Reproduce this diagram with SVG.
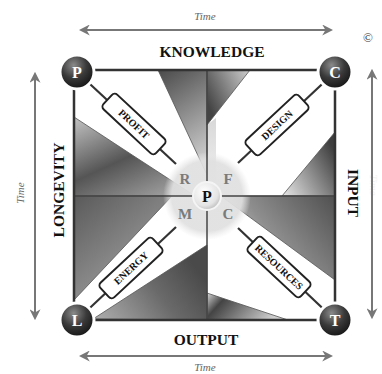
<svg xmlns="http://www.w3.org/2000/svg" width="382" height="374" viewBox="0 0 382 374">
<defs>
<style>
.lbl{font-family:"Liberation Serif","Times New Roman",serif;font-weight:bold;fill:#111;text-anchor:middle}
.time{font-family:"Liberation Serif","Times New Roman",serif;font-style:italic;font-size:11px;fill:#666;text-anchor:middle}
.box{fill:#fff;stroke:#222;stroke-width:2}
.boxt{font-family:"Liberation Serif","Times New Roman",serif;font-weight:bold;font-size:10px;fill:#111;text-anchor:middle}
.wire{stroke:#333;stroke-width:2.2;fill:none}
.corner{stroke:#fff;stroke-width:3;fill:url(#cg)}
.cl{font-family:"Liberation Serif","Times New Roman",serif;font-weight:bold;font-size:16px;fill:#fff;text-anchor:middle}
.sl{font-family:"Liberation Serif","Times New Roman",serif;font-weight:bold;font-size:15px;fill:#7a7a7a;text-anchor:middle}
.arr{stroke:#777;stroke-width:2;fill:none;marker-start:url(#ah);marker-end:url(#ah)}
.edge{stroke:#555;stroke-width:0.8}
</style>
<marker id="ah" viewBox="0 0 10 10" refX="8" refY="5" markerWidth="5.5" markerHeight="5.5" orient="auto-start-reverse" markerUnits="strokeWidth">
<path d="M0,0 L10,5 L0,10 L3,5 Z" fill="#777"/>
</marker>
<radialGradient id="cg" cx="0.4" cy="0.3" r="0.75">
<stop offset="0" stop-color="#8a8a8a"/>
<stop offset="0.5" stop-color="#3a3a3a"/>
<stop offset="1" stop-color="#111"/>
</radialGradient>
<radialGradient id="pg" cx="0.4" cy="0.35" r="0.7">
<stop offset="0" stop-color="#fff"/>
<stop offset="0.7" stop-color="#e4e4e4"/>
<stop offset="1" stop-color="#b8b8b8"/>
</radialGradient>
<radialGradient id="glow" cx="0.5" cy="0.5" r="0.5">
<stop offset="0" stop-color="#e2e2e2" stop-opacity="1"/>
<stop offset="0.8" stop-color="#e0e0e0" stop-opacity="0.92"/>
<stop offset="1" stop-color="#e8e8e8" stop-opacity="0"/>
</radialGradient>
<linearGradient id="g1" x1="0" y1="0" x2="0.3" y2="1">
<stop offset="0" stop-color="#4a4a4a"/>
<stop offset="1" stop-color="#c8c8c8"/>
</linearGradient>
<linearGradient id="g2" x1="0" y1="0.6" x2="1" y2="0">
<stop offset="0" stop-color="#444"/>
<stop offset="1" stop-color="#cfcfcf"/>
</linearGradient>
<linearGradient id="g2b" x1="0" y1="0" x2="0" y2="1">
<stop offset="0" stop-color="#d8d8d8"/>
<stop offset="1" stop-color="#f4f4f4"/>
</linearGradient>
<linearGradient id="g3" x1="0" y1="0" x2="0.7" y2="1">
<stop offset="0" stop-color="#c4c4c4"/>
<stop offset="0.55" stop-color="#555"/>
<stop offset="1" stop-color="#9a9a9a"/>
</linearGradient>
<linearGradient id="g4" x1="1" y1="0.3" x2="0" y2="1">
<stop offset="0" stop-color="#3e3e3e"/>
<stop offset="1" stop-color="#e8e8e8"/>
</linearGradient>
<linearGradient id="g5" x1="1" y1="0" x2="0" y2="0.6">
<stop offset="0" stop-color="#505050"/>
<stop offset="0.6" stop-color="#8e8e8e"/>
<stop offset="1" stop-color="#d0d0d0"/>
</linearGradient>
<linearGradient id="g6" x1="0" y1="0" x2="1" y2="0.3">
<stop offset="0" stop-color="#d8d8d8"/>
<stop offset="0.25" stop-color="#444"/>
<stop offset="1" stop-color="#cfcfcf"/>
</linearGradient>
<linearGradient id="g7" x1="0" y1="0" x2="0.8" y2="1">
<stop offset="0" stop-color="#5a5a5a"/>
<stop offset="0.6" stop-color="#8a8a8a"/>
<stop offset="1" stop-color="#cfcfcf"/>
</linearGradient>
<linearGradient id="g8" x1="0" y1="1" x2="1" y2="0.5">
<stop offset="0" stop-color="#b0b0b0"/>
<stop offset="0.6" stop-color="#6a6a6a"/>
<stop offset="1" stop-color="#4a4a4a"/>
</linearGradient>
</defs>
<rect width="382" height="374" fill="#fff"/>
<g id="shading">
<polygon points="207,125 216,118 216,196 207,196" fill="url(#g2b)"/>
<polygon class="edge" points="158,70 207,70 207,175" fill="url(#g1)"/>
<polygon class="edge" points="207,70 250,70 207,125" fill="url(#g2)"/>
<polygon class="edge" points="74,117 74,196 195,196" fill="url(#g3)"/>
<polygon class="edge" points="335,132 335,196 282,196" fill="url(#g4)"/>
<polygon class="edge" points="221,196 335,196 335,280" fill="url(#g5)"/>
<polygon class="edge" points="207,293 207,320 288,320" fill="url(#g6)"/>
<polygon class="edge" points="74,196 172,196 74,300" fill="url(#g7)"/>
<polygon class="edge" points="93,319 207,245 207,320" fill="url(#g8)"/>
<circle cx="207" cy="196" r="44" fill="url(#glow)"/>
</g>
<g id="connectors">
<line x1="207" y1="70" x2="207" y2="320" stroke="#444" stroke-width="1.5"/>
<line x1="74" y1="196" x2="335" y2="196" stroke="#444" stroke-width="1.5"/>
<path d="M74,70 H335 V320 H74 Z" fill="none" stroke="#333" stroke-width="2.5"/>
<line class="wire" x1="77" y1="72" x2="176" y2="164"/>
<line class="wire" x1="335" y1="72" x2="238" y2="163"/>
<line class="wire" x1="77" y1="320" x2="176" y2="227"/>
<line class="wire" x1="335" y1="320" x2="238" y2="228"/>
</g>
<g id="profit"><g transform="translate(134,124) rotate(43)"><rect class="box" x="-36" y="-10" width="72" height="20" rx="4"/><text class="boxt" x="0" y="3.5">PROFIT</text></g></g>
<g id="design"><g transform="translate(277,125) rotate(-43)"><rect class="box" x="-36" y="-10" width="72" height="20" rx="4"/><text class="boxt" x="0" y="3.5">DESIGN</text></g></g>
<g id="energy"><g transform="translate(131,268) rotate(-43)"><rect class="box" x="-36" y="-10" width="72" height="20" rx="4"/><text class="boxt" x="0" y="3.5">ENERGY</text></g></g>
<g id="resources"><g transform="translate(279,267) rotate(43)"><rect class="box" x="-36" y="-10" width="72" height="20" rx="4"/><text class="boxt" x="0" y="3.5">RESOURCES</text></g></g>
<g id="segments">
<text class="sl" x="185" y="184">R</text>
<text class="sl" x="228" y="184">F</text>
<text class="sl" x="185" y="219">M</text>
<text class="sl" x="228" y="219">C</text>
</g>
<g id="center"><circle cx="207" cy="196" r="14" fill="url(#pg)" stroke="#f4f4f4" stroke-width="2"/><text class="lbl" x="207" y="202" font-size="16">P</text></g>
<g id="nodeP"><circle class="corner" cx="77" cy="72" r="17"/><text class="cl" x="77" y="78">P</text></g>
<g id="nodeC"><circle class="corner" cx="335" cy="72" r="17"/><text class="cl" x="335" y="78">C</text></g>
<g id="nodeL"><circle class="corner" cx="77" cy="320" r="17"/><text class="cl" x="77" y="326">L</text></g>
<g id="nodeT"><circle class="corner" cx="335" cy="320" r="17"/><text class="cl" x="335" y="326">T</text></g>
<g id="labels">
<text class="lbl" x="212" y="57" font-size="15.5">KNOWLEDGE</text>
<text class="lbl" x="206" y="345" font-size="15.5">OUTPUT</text>
<text class="lbl" font-size="15.5" transform="translate(64,190) rotate(-90)">LONGEVITY</text>
<text class="lbl" font-size="15.5" transform="translate(348,193) rotate(90)">INPUT</text>
<text x="368" y="42" font-family="Liberation Serif, serif" font-size="13" fill="#333" text-anchor="middle">©</text>
<text class="time" x="205" y="20">Time</text>
<text class="time" x="205" y="371">Time</text>
<text class="time" transform="translate(24,193) rotate(-90)">Time</text>
<text class="time" transform="translate(370,185) rotate(90)" style="fill:#f2f2f2">Time</text>
</g>
<g id="arrows">
<line class="arr" x1="81" y1="30" x2="331" y2="30"/>
<line class="arr" x1="81" y1="356" x2="331" y2="356"/>
<line class="arr" x1="35" y1="74" x2="35" y2="318"/>
<line class="arr" x1="372" y1="71" x2="372" y2="317"/>
</g>
</svg>
